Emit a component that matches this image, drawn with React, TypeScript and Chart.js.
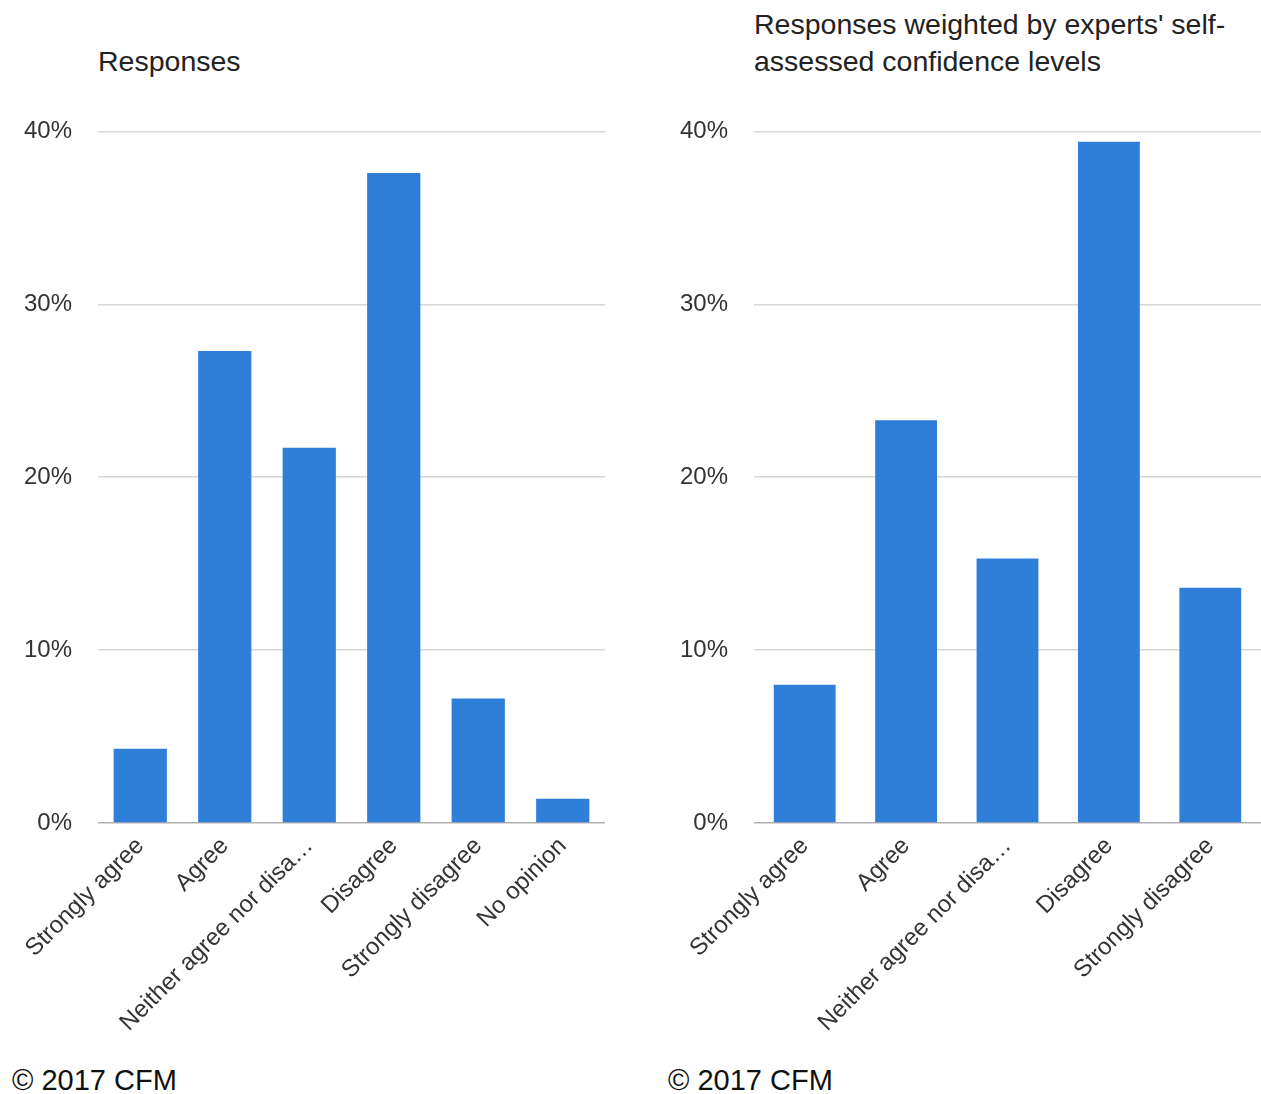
import React, { useEffect, useRef } from "react";
import { Chart, registerables } from "chart.js";

Chart.register(...registerables);

const leftCategories = [
  "Strongly agree",
  "Agree",
  "Neither agree nor disa…",
  "Disagree",
  "Strongly disagree",
  "No opinion",
];
const leftValues = [4.3, 27.3, 21.7, 37.6, 7.2, 1.4];

const rightCategories = [
  "Strongly agree",
  "Agree",
  "Neither agree nor disa…",
  "Disagree",
  "Strongly disagree",
];
const rightValues = [8.0, 23.3, 15.3, 39.4, 13.6];

const yTicks = [0, 10, 20, 30, 40];

const leftTitle = ["Responses"];
const rightTitle = ["Responses weighted by experts' self-", "assessed confidence levels"];
const footer = "© 2017 CFM";

const FONT = "'Liberation Sans', Arial, Helvetica, sans-serif";
const BAR = "#2f7fd8";

const CANVAS_TOP = 91;
const CANVAS_BOTTOM = 1050;
const CANVAS_H = CANVAS_BOTTOM - CANVAS_TOP;
const PLOT_TOP_PAD = 22;
const PLOT_BOTTOM = 823;
const Y_AXIS_W = 98;

function BarPanel(props: { labels: string[]; values: number[]; barPct: number; left: number; width: number }) {
  const ref = useRef<HTMLCanvasElement | null>(null);
  useEffect(() => {
    if (!ref.current) return;
    const chart = new Chart(ref.current, {
      type: "bar",
      data: {
        labels: props.labels,
        datasets: [
          {
            data: props.values,
            backgroundColor: BAR,
            borderWidth: 0,
            barPercentage: props.barPct,
            categoryPercentage: 1,
          },
        ],
      },
      options: {
        animation: false,
        responsive: false,
        maintainAspectRatio: false,
        layout: { padding: { top: PLOT_TOP_PAD, left: 0, right: 0, bottom: 0 } },
        plugins: { legend: { display: false }, tooltip: { enabled: false }, title: { display: false } },
        scales: {
          x: {
            grid: { display: false },
            border: { display: false },
            ticks: {
              autoSkip: false,
              minRotation: 45,
              maxRotation: 45,
              padding: 1,
              labelOffset: 0,
              color: "#333",
              font: { family: FONT, size: 24 },
            },
            afterFit: (scale: any) => {
              scale.height = CANVAS_BOTTOM - PLOT_BOTTOM;
            },
          },
          y: {
            min: 0,
            max: 40,
            afterBuildTicks: (scale: any) => {
              scale.ticks = yTicks.map((v) => ({ value: v }));
            },
            grid: {
              drawTicks: false,
              color: (ctx: any) => (ctx.tick && ctx.tick.value === 0 ? "#b0b0b0" : "#d6d6d6"),
              lineWidth: 1.5,
            },
            border: { display: false },
            ticks: {
              padding: 26,
              color: "#333",
              font: { family: FONT, size: 24 },
              callback: (v: any) => v + "%",
            },
            afterFit: (scale: any) => {
              scale.width = Y_AXIS_W;
            },
          },
        },
      },
    });
    return () => chart.destroy();
  }, []);
  return (
    <canvas
      ref={ref}
      width={props.width}
      height={CANVAS_H}
      style={{ position: "absolute", left: props.left, top: CANVAS_TOP, width: props.width, height: CANVAS_H }}
    />
  );
}

function Title(props: { lines: string[]; left: number }) {
  return (
    <div
      style={{
        position: "absolute",
        left: props.left,
        bottom: 1094 - 80,
        fontFamily: FONT,
        fontSize: 28.5,
        lineHeight: "37px",
        color: "#222",
        whiteSpace: "nowrap",
      }}
    >
      {props.lines.map((l, i) => (
        <div key={i}>{l}</div>
      ))}
    </div>
  );
}

function Footer(props: { left: number }) {
  return (
    <div
      style={{
        position: "absolute",
        left: props.left,
        top: 1062,
        fontFamily: FONT,
        fontSize: 29,
        lineHeight: "36px",
        color: "#111",
        whiteSpace: "nowrap",
      }}
    >
      {footer}
    </div>
  );
}

export default function App() {
  useEffect(() => {
    document.body.style.margin = "0";
  }, []);
  return (
    <div style={{ position: "relative", width: 1261, height: 1094, background: "#fff", overflow: "hidden" }}>
      <BarPanel labels={leftCategories} values={leftValues} barPct={0.63} left={0} width={605} />
      <BarPanel labels={rightCategories} values={rightValues} barPct={0.61} left={656} width={605} />
      <Title lines={leftTitle} left={98} />
      <Title lines={rightTitle} left={754} />
      <Footer left={12} />
      <Footer left={668} />
    </div>
  );
}
